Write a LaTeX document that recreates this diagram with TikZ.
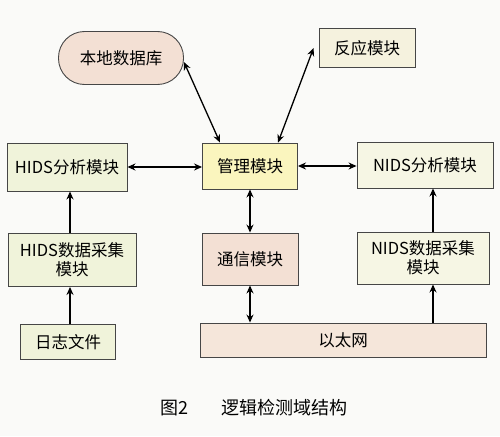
\documentclass[tikz,border=0pt]{standalone}
\usepackage{fontspec}
\setmainfont{Noto Sans CJK SC}
\usetikzlibrary{arrows.meta,calc}
\definecolor{bgc}{RGB}{250,250,248}
\definecolor{hidsc}{RGB}{240,243,218}
\definecolor{mgrc}{RGB}{250,245,190}
\definecolor{pinkc}{RGB}{243,224,212}
\definecolor{ethc}{RGB}{245,230,218}
\definecolor{reactc}{RGB}{245,242,222}
\definecolor{nidsc}{RGB}{246,246,228}
\definecolor{edgec}{RGB}{70,70,70}
\begin{document}
\begin{tikzpicture}[x=1pt,y=-1pt,
  box/.style={draw=edgec,line width=0.9pt,inner sep=0pt,align=center,
    font=\fontsize{16.5}{19}\selectfont},
  link/.style={line width=1.3pt,{Stealth[length=8pt,width=7pt]}-{Stealth[length=8pt,width=7pt]}},
  uplink/.style={line width=1.3pt,-{Stealth[length=8pt,width=7pt]}}]
\fill[bgc] (0,0) rectangle (500,436);
\useasboundingbox (0,0) rectangle (500,436);
\node[box,fill=pinkc,rounded corners=26pt,minimum width=125pt,minimum height=53pt] (db) at (121,58) {本地数据库};
\node[box,fill=reactc,minimum width=96pt,minimum height=39pt] (react) at (367,48) {反应模块};
\node[box,fill=hidsc,minimum width=120pt,minimum height=48pt] (hids) at (67,167) {HIDS分析模块};
\node[box,fill=mgrc,minimum width=95pt,minimum height=46pt] (mgr) at (250,166) {管理模块};
\node[box,fill=nidsc,minimum width=136pt,minimum height=46pt] (nids) at (425,165) {NIDS分析模块};
\node[box,fill=hidsc,minimum width=128pt,minimum height=53pt] (hcol) at (72,260) {HIDS数据采集\\模块};
\node[box,fill=hidsc,minimum width=95pt,minimum height=35pt] (log) at (68,342) {日志文件};
\node[box,fill=pinkc,minimum width=96pt,minimum height=52pt] (comm) at (250,259) {通信模块};
\node[box,fill=nidsc,minimum width=132pt,minimum height=52pt] (ncol) at (423,258) {NIDS数据采集\\模块};
\node[box,fill=ethc,minimum width=286pt,minimum height=34pt] (eth) at (343,340) {以太网};
\node[font=\fontsize{18}{20}\selectfont] (fig) at (174,408) {图2};
\node[font=\fontsize{18}{20}\selectfont] (cap) at (284,408) {逻辑检测域结构};
\draw[link] ([yshift=-4pt]db.east) -- ([xshift=-30pt]mgr.north);
\draw[link] ([xshift=-5pt]react.west) -- ([xshift=28pt]mgr.north);
\draw[link] (hids.east) -- (hids.east -| mgr.west);
\draw[link] (mgr.east) -- (mgr.east -| nids.west);
\draw[link] (mgr.south) -- (comm.north);
\draw[link] (comm.south) -- (comm.south |- eth.north);
\draw[uplink] ([xshift=-2pt]hcol.north) -- ([xshift=-2pt]hcol.north |- hids.south);
\draw[uplink] ([xshift=2pt]log.north) -- ([xshift=2pt]log.north |- hcol.south);
\draw[uplink] ([xshift=10pt]ncol.south |- eth.north) -- ([xshift=10pt]ncol.south);
\draw[uplink] ([xshift=10pt]ncol.north) -- ([xshift=10pt]ncol.north |- nids.south);
\end{tikzpicture}
\end{document}
